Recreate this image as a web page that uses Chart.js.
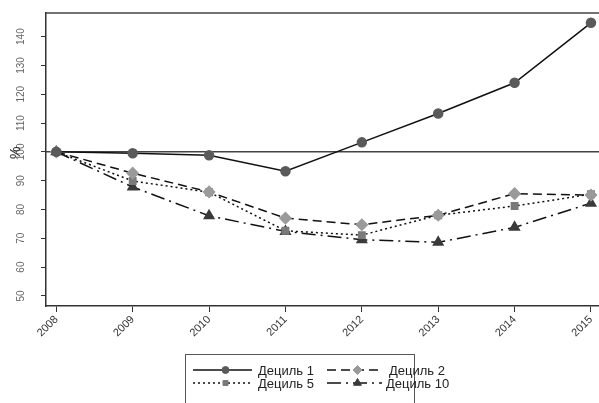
<!DOCTYPE html>
<html>
<head>
<meta charset="utf-8">
<script src="https://cdn.jsdelivr.net/npm/chart.js@4/dist/chart.umd.min.js"></script>
<style>
  html, body { margin: 0; padding: 0; background: #fff; }
  #wrap { width: 599px; height: 403px; }
</style>
</head>
<body>
<div id="wrap"><canvas id="myChart" width="599" height="403"></canvas></div>
<script>
// values, index 100 = 2008
const years = [2008, 2009, 2010, 2011, 2012, 2013, 2014, 2015];
const decile1 = [100, 99.5, 98.8, 93.3, 103.3, 113.3, 124.0, 144.8];
const decile2 = [100, 92.6, 86.1, 77.0, 74.7, 78.0, 85.5, 85.0];
const decile5 = [100, 89.9, 86.0, 72.6, 71.1, 78.0, 81.2, 85.3];
const decile10 = [100, 87.8, 77.8, 72.4, 69.5, 68.6, 73.8, 82.2];
const yTicks = [50, 60, 70, 80, 90, 100, 110, 120, 130, 140];
const seriesNames = ["Дециль 1", "Дециль 2", "Дециль 5", "Дециль 10"];

const toPoints = vals => vals.map((v, i) => ({ x: years[i], y: v }));

const datasets = [
    { label: seriesNames[0], data: toPoints(decile1), borderColor: "#111", borderWidth: 1.5, borderDash: [],
      pointStyle: "circle", pointRadius: 4.5, pointBackgroundColor: "#5a5a5a", pointBorderColor: "#5a5a5a" },
    { label: seriesNames[1], data: toPoints(decile2), borderColor: "#111", borderWidth: 1.5, borderDash: [9, 5],
      pointStyle: "rectRot", pointRadius: 5.5, pointBackgroundColor: "#9a9a9a", pointBorderColor: "#9a9a9a" },
    { label: seriesNames[2], data: toPoints(decile5), borderColor: "#111", borderWidth: 1.5, borderDash: [2, 3],
      pointStyle: "rect", pointRadius: 4.5, pointBackgroundColor: "#7a7a7a", pointBorderColor: "#7a7a7a" },
    { label: seriesNames[3], data: toPoints(decile10), borderColor: "#111", borderWidth: 1.5, borderDash: [14, 5, 2, 5],
      pointStyle: "triangle", pointRadius: 5.5, pointBackgroundColor: "#3a3a3a", pointBorderColor: "#3a3a3a" }
];

const font = "'Liberation Sans', Arial, sans-serif";

const extras = {
    id: "extras",
    beforeDatasetsDraw(chart) {
        const { ctx, chartArea } = chart;
        const y = chart.scales.y;
        ctx.save();
        ctx.strokeStyle = "#444";
        ctx.lineWidth = 1.5;
        // top frame line
        ctx.beginPath();
        ctx.moveTo(chartArea.left, chartArea.top);
        ctx.lineTo(chartArea.right, chartArea.top);
        ctx.stroke();
        // reference line at 100
        const y100 = y.getPixelForValue(100);
        ctx.beginPath();
        ctx.moveTo(chartArea.left, y100);
        ctx.lineTo(chartArea.right, y100);
        ctx.stroke();
        ctx.restore();
    },
    afterDraw(chart) {
        const { ctx } = chart;
        const y = chart.scales.y;
        ctx.save();
        // rotated y tick labels
        ctx.fillStyle = "#666";
        ctx.font = "10px " + font;
        ctx.textAlign = "center";
        ctx.textBaseline = "middle";
        yTicks.forEach(v => {
            ctx.save();
            ctx.translate(21, y.getPixelForValue(v));
            ctx.rotate(-Math.PI / 2);
            ctx.fillText(String(v), 0, 0);
            ctx.restore();
        });
        // axis title
        ctx.save();
        ctx.fillStyle = "#222";
        ctx.font = "14px " + font;
        ctx.translate(16, y.getPixelForValue(100) + 1);
        ctx.rotate(-Math.PI / 2);
        ctx.fillText("%", 0, 0);
        ctx.restore();

        // legend
        ctx.strokeStyle = "#555";
        ctx.lineWidth = 1;
        ctx.strokeRect(185.5, 354.5, 229, 60);
        const slots = [
            { x0: 193, x1: 252, tx: 258, y: 370 },
            { x0: 327, x1: 382, tx: 389, y: 370 },
            { x0: 193, x1: 252, tx: 258, y: 383 },
            { x0: 327, x1: 382, tx: 386, y: 383 }
        ];
        chart.data.datasets.forEach((ds, i) => {
            const s = slots[i];
            ctx.save();
            ctx.strokeStyle = ds.borderColor;
            ctx.lineWidth = 1.5;
            ctx.setLineDash(ds.borderDash);
            ctx.beginPath();
            ctx.moveTo(s.x0, s.y);
            ctx.lineTo(s.x1, s.y);
            ctx.stroke();
            ctx.restore();
            ctx.save();
            ctx.fillStyle = ds.pointBackgroundColor;
            ctx.strokeStyle = ds.pointBorderColor;
            Chart.helpers.drawPoint(ctx, { pointStyle: ds.pointStyle, radius: ds.pointRadius - 1, borderWidth: 1 },
                (s.x0 + s.x1) / 2 + 3, s.y);
            ctx.restore();
            ctx.fillStyle = "#222";
            ctx.font = "13px " + font;
            ctx.textAlign = "left";
            ctx.textBaseline = "middle";
            ctx.fillText(ds.label, s.tx, s.y + 1);
        });
        ctx.restore();
    }
};

const ctx = document.getElementById("myChart");

new Chart(ctx, {
    type: "line",
    data: { datasets: datasets },
    options: {
        responsive: false,
        animation: false,
        devicePixelRatio: 1,
        elements: { line: { tension: 0 } },
        layout: { autoPadding: false, padding: { top: 13, right: 0, bottom: 0, left: 0 } },
        plugins: {
            legend: { display: false },
            tooltip: { enabled: false },
            title: { display: false }
        },
        scales: {
            x: {
                type: "linear",
                min: 2007.865,
                max: 2015.105,
                afterBuildTicks: s => { s.ticks = years.map(v => ({ value: v })); },
                afterFit: s => { s.height = 97; s.paddingLeft = 0; s.paddingRight = 0; },
                border: { display: true, color: "#333", width: 1.5 },
                grid: { drawOnChartArea: false, drawTicks: true, tickLength: 6, color: "#333", lineWidth: 1 },
                ticks: {
                    color: "#333",
                    font: { family: font, size: 11 },
                    minRotation: 45,
                    maxRotation: 45,
                    padding: 1,
                    callback: v => String(v)
                }
            },
            y: {
                type: "linear",
                min: 46.5,
                max: 148.2,
                afterBuildTicks: s => { s.ticks = yTicks.map(v => ({ value: v })); },
                afterFit: s => { s.width = 46; },
                border: { display: true, color: "#333", width: 1.5 },
                grid: { drawOnChartArea: false, drawTicks: true, tickLength: 5, color: "#333", lineWidth: 1 },
                ticks: { display: false }
            }
        }
    },
    plugins: [extras]
});
</script>
</body>
</html>
